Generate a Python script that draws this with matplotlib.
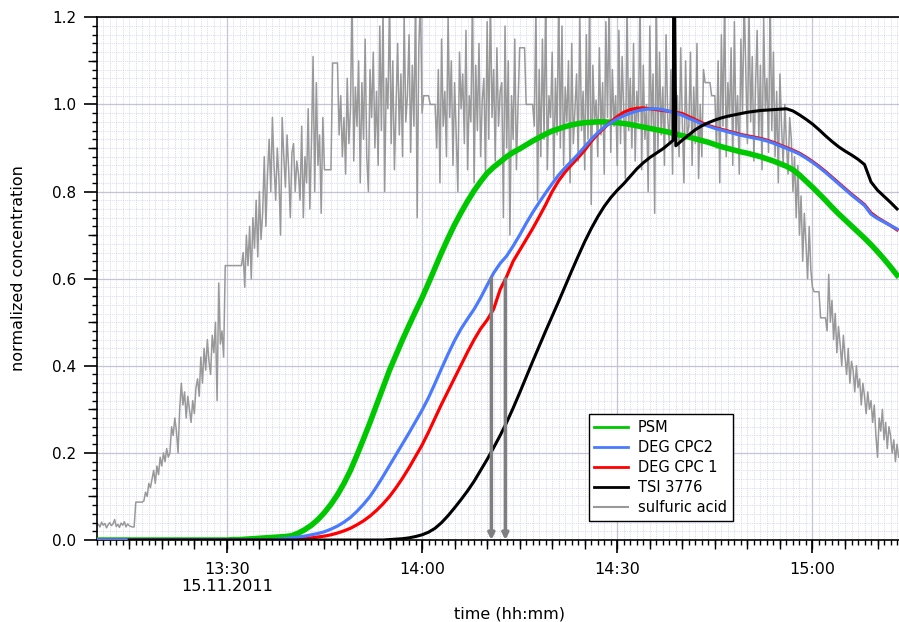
import numpy as np
import matplotlib
matplotlib.use("Agg")
import matplotlib.pyplot as plt
from matplotlib.ticker import MultipleLocator, FuncFormatter
from matplotlib.lines import Line2D

# ---------------- data (time in minutes after 13:00, 15.11.2011) ----------------
curve_start = 10          # 1-minute samples from 13:10
psm = ([0.0] * 20 +
       [0.000, 0.001, 0.001, 0.002, 0.003, 0.004, 0.005, 0.006, 0.007, 0.008,
        0.010, 0.016, 0.024, 0.034, 0.047, 0.063, 0.082, 0.104, 0.130, 0.160,
        0.195, 0.232, 0.270, 0.310, 0.350, 0.390, 0.425, 0.460, 0.493, 0.525,
        0.556, 0.590, 0.625, 0.660, 0.693, 0.724, 0.752, 0.778, 0.802, 0.823,
        0.842, 0.856, 0.868, 0.880, 0.890, 0.898, 0.907, 0.916, 0.924, 0.932,
        0.939, 0.944, 0.949, 0.953, 0.956, 0.958, 0.959, 0.960, 0.960, 0.959,
        0.958, 0.956, 0.954, 0.951, 0.948, 0.945, 0.942, 0.939, 0.936, 0.932,
        0.928, 0.925, 0.921, 0.917, 0.913, 0.908, 0.903, 0.899, 0.895, 0.891,
        0.888, 0.884, 0.880, 0.875, 0.870, 0.864, 0.858, 0.850, 0.838, 0.824,
        0.810, 0.795, 0.780, 0.764, 0.749, 0.735, 0.721, 0.707, 0.693, 0.678,
        0.662, 0.645, 0.627, 0.608])

deg_cpc2 = ([0.0] * 28 +
            [0.002, 0.003,
             0.005, 0.007, 0.009, 0.012, 0.015, 0.019, 0.025, 0.032, 0.041, 0.052,
             0.066, 0.082, 0.100, 0.122, 0.146, 0.171, 0.196, 0.221, 0.246, 0.272,
             0.298, 0.327, 0.360, 0.394, 0.427, 0.458, 0.485, 0.508, 0.530, 0.556,
             0.585, 0.613, 0.635, 0.652, 0.675, 0.700, 0.727, 0.752, 0.775, 0.797,
             0.818, 0.838, 0.855, 0.870, 0.886, 0.903, 0.920, 0.935, 0.948, 0.958,
             0.967, 0.974, 0.980, 0.985, 0.988, 0.990, 0.990, 0.988, 0.984, 0.980,
             0.975, 0.968, 0.962, 0.955, 0.950, 0.945, 0.941, 0.937, 0.933, 0.929,
             0.926, 0.923, 0.920, 0.916, 0.911, 0.905, 0.899, 0.893, 0.886, 0.877,
             0.867, 0.856, 0.844, 0.831, 0.818, 0.805, 0.792, 0.780, 0.768, 0.748,
             0.738, 0.730, 0.722, 0.714])

deg_cpc1 = ([0.0] * 30 +
            [0.002, 0.003, 0.004, 0.005, 0.007, 0.009, 0.012, 0.016, 0.021, 0.027,
             0.035, 0.044, 0.055, 0.068, 0.083, 0.100, 0.120, 0.142, 0.166, 0.192,
             0.218, 0.248, 0.280, 0.312, 0.342, 0.372, 0.402, 0.432, 0.460, 0.485,
             0.505, 0.530, 0.575, 0.605, 0.640, 0.665, 0.690, 0.715, 0.742, 0.770,
             0.800, 0.825, 0.845, 0.862, 0.878, 0.895, 0.915, 0.932, 0.946, 0.960,
             0.972, 0.982, 0.988, 0.991, 0.992, 0.990, 0.988, 0.986, 0.984, 0.982,
             0.979, 0.972, 0.965, 0.958, 0.952, 0.947, 0.943, 0.939, 0.935, 0.931,
             0.928, 0.925, 0.922, 0.918, 0.913, 0.907, 0.901, 0.895, 0.888, 0.879,
             0.869, 0.858, 0.846, 0.833, 0.820, 0.807, 0.794, 0.782, 0.770, 0.751,
             0.740, 0.731, 0.722, 0.712])

tsi_time = np.concatenate([np.arange(15, 99), [98.6, 98.7], np.arange(99, 134)])
tsi_3776 = ([0.0] * 40 +
            [0.001, 0.002, 0.003, 0.005, 0.008,
             0.012, 0.018, 0.027, 0.040, 0.056, 0.074, 0.093, 0.113, 0.135, 0.160,
             0.185, 0.212, 0.240, 0.270, 0.303, 0.338, 0.374, 0.410, 0.445, 0.480,
             0.514, 0.548, 0.583, 0.618, 0.652, 0.685, 0.715, 0.742, 0.766, 0.786,
             0.803, 0.818, 0.835, 0.852, 0.866, 0.878, 0.888, 0.898, 0.910,
             0.918, 1.40,
             0.905, 0.918, 0.930, 0.942, 0.951, 0.958, 0.964, 0.969, 0.973, 0.976, 0.979,
             0.982, 0.984, 0.986, 0.987, 0.988, 0.989, 0.990, 0.985, 0.976, 0.966,
             0.955, 0.942, 0.928, 0.915, 0.903, 0.893, 0.884, 0.874, 0.862, 0.822,
             0.803, 0.789, 0.775, 0.760])

acid_start, acid_step = 10.0, 0.25   # 15-second samples
sulfuric_acid = (
    [0.032, 0.036, 0.030, 0.041, 0.034, 0.038, 0.028, 0.035, 0.040, 0.033,
     0.037, 0.047, 0.031, 0.036, 0.029, 0.039, 0.034, 0.042, 0.030, 0.037,
     0.033, 0.031, 0.030, 0.030] +
    [0.087] * 5 +
    [0.09, 0.11, 0.10, 0.13, 0.12, 0.14, 0.16, 0.13, 0.17, 0.15, 0.19, 0.17,
     0.20, 0.18, 0.21, 0.19, 0.20] +
    [0.26, 0.24, 0.28, 0.25, 0.20] +
    [0.30, 0.36, 0.31, 0.34, 0.28, 0.33, 0.30, 0.27, 0.32, 0.29, 0.35] +
    [0.37, 0.33, 0.42, 0.36, 0.44, 0.39, 0.46, 0.41, 0.38, 0.47, 0.43, 0.50,
     0.32, 0.59, 0.45, 0.48, 0.42] +
    [0.63] * 11 +
    [0.66, 0.58, 0.70, 0.63, 0.72, 0.60, 0.74, 0.67, 0.78, 0.65, 0.80, 0.69,
     0.75, 0.88, 0.72] +
    [0.84, 0.92, 0.80, 0.97, 0.86, 0.78, 0.90, 0.83, 0.70, 0.97, 0.88, 0.81,
     0.93, 0.85, 0.74, 0.89, 0.91, 0.80, 0.87, 0.84] +
    [0.78, 0.95, 0.74, 0.88, 0.82, 0.99, 0.76, 0.91, 1.11, 0.80, 1.05, 0.86,
     0.93, 0.75, 0.97] +
    [0.85] * 5 + [1.095] * 4 +
    [0.93, 1.02, 0.88, 0.97, 0.84, 1.06, 0.91, 0.99, 1.25, 0.87, 1.04] +
    [0.95, 1.10, 0.82, 1.05, 0.92, 1.15, 0.88, 0.80, 1.08, 0.97,
     1.12, 0.90, 1.03, 0.86, 1.18, 0.94, 1.22, 0.80, 1.06, 0.99,
     1.24, 0.91, 1.10, 0.85, 1.00, 1.14, 0.93, 1.07, 0.88, 1.20,
     0.96, 1.02, 1.16, 0.89, 1.09, 0.95, 1.25, 0.74, 1.13, 1.25, 0.98] +
    [1.02] * 4 + [1.00] * 4 +
    [0.90, 1.08, 0.82, 1.15, 0.95, 1.03, 0.88, 1.20, 0.97, 1.10,
     0.86, 1.05, 0.93, 0.80, 1.12, 0.99, 1.07, 0.91, 1.17, 0.85,
     1.02, 0.96, 1.25, 0.82, 1.09, 0.94, 1.14, 0.88, 1.01, 1.06,
     0.84, 1.19, 0.92, 1.25, 0.97, 1.08, 0.87, 1.13, 0.95, 1.03] +
    [1.05, 0.74, 1.18, 0.90, 1.10, 0.70, 1.02, 0.92, 1.15, 0.85, 1.00] +
    [1.13] * 4 + [1.00] * 5 +
    [0.95, 1.22, 0.78, 1.08, 0.88, 1.15, 0.92, 1.25, 0.85, 1.02,
     0.97, 1.12, 0.83, 1.06, 0.93, 1.25, 0.90, 1.18, 0.86, 1.04,
     0.96, 1.10, 0.82, 1.14, 0.91, 0.99, 1.07, 0.87, 1.20, 0.94,
     1.03, 0.85, 1.16, 0.92, 1.25, 0.77, 1.09, 0.96, 1.01, 0.88,
     1.13, 0.93, 1.05, 0.84, 1.19, 0.97, 1.25, 0.89, 1.08, 0.95,
     1.02, 0.86, 1.17, 0.91, 1.11, 0.98, 0.83, 1.24, 0.94, 1.06,
     0.90, 1.14, 0.87, 1.03, 0.96, 1.25, 0.85, 1.09, 0.92, 1.00,
     0.80, 1.18, 0.95, 1.07, 0.75, 1.25, 0.89, 1.12, 0.93, 1.04,
     0.86, 1.16, 0.97, 0.91, 1.08, 0.84, 1.21, 0.94, 1.02, 0.88,
     1.13, 0.96, 0.82, 1.10, 0.93] +
    [0.95, 1.12, 0.86, 1.04, 0.91, 1.14, 0.83, 1.00, 0.88, 1.08] +
    [1.05] * 4 + [1.02] * 3 +
    [0.90, 1.10, 0.82, 1.16, 0.95, 1.25, 0.88, 1.05, 0.97, 1.13,
     0.86, 1.19, 0.93, 1.02, 0.84, 1.15, 0.98, 1.25, 1.08, 0.91,
     1.22, 0.96, 1.11, 0.87, 1.04, 1.17, 0.92, 1.09, 0.85, 1.20,
     0.99, 1.06, 0.89, 1.25, 0.94, 1.12, 0.88, 1.03, 0.82, 1.07,
     0.95, 0.86, 1.00, 0.91, 0.84, 0.97] +
    [0.92, 0.80, 0.88, 0.74, 0.86, 0.70, 0.79, 0.64, 0.75, 0.68, 0.60, 0.72,
     0.62, 0.58] +
    [0.57] * 4 + [0.51] * 4 +
    [0.48, 0.61, 0.50, 0.55, 0.46, 0.52, 0.43, 0.49, 0.45, 0.40,
     0.47, 0.42, 0.38, 0.44, 0.36, 0.41, 0.39, 0.34, 0.40, 0.35,
     0.37, 0.31, 0.36, 0.33, 0.29, 0.34, 0.30, 0.32, 0.27, 0.31,
     0.24, 0.19, 0.28, 0.25, 0.30, 0.23, 0.27, 0.21, 0.26, 0.24,
     0.20, 0.23, 0.18, 0.22, 0.19])

arrow_times = [70.65, 72.8]   # where DEG CPC2 / DEG CPC 1 reach 0.6
arrow_level = 0.6

labels = ["PSM", "DEG CPC2", "DEG CPC 1", "TSI 3776", "sulfuric acid"]
colors = ["#00c800", "#4a7bff", "#ff0000", "#000000", "#999999"]

# ---------------- figure ----------------
plt.rcParams["font.family"] = ["DejaVu Sans"]
fig = plt.figure(figsize=(8.99, 6.22), dpi=100)
ax = fig.add_axes([0.1076, 0.1318, 0.8924, 0.8404])

t_curve = curve_start + np.arange(len(psm))
t_acid = acid_start + acid_step * np.arange(len(sulfuric_acid))

ax.plot(t_acid, sulfuric_acid, color=colors[4], lw=1.1, zorder=2)
ax.plot(t_curve, psm, color=colors[0], lw=4.0, zorder=3, solid_joinstyle="round")
ax.plot(curve_start + np.arange(len(deg_cpc1)), deg_cpc1, color=colors[2], lw=2.3, zorder=4)
ax.plot(curve_start + np.arange(len(deg_cpc2)), deg_cpc2, color=colors[1], lw=2.3, zorder=5)
ax.plot(tsi_time, tsi_3776, color=colors[3], lw=2.2, zorder=6)

for at in arrow_times:
    ax.annotate("", xy=(at, 0.0), xytext=(at, arrow_level),
                arrowprops=dict(arrowstyle="-|>", color="#7f7f7f", lw=2.5,
                                mutation_scale=9, shrinkA=0, shrinkB=0),
                zorder=7)

ax.set_xlim(10, 133.3)
ax.set_ylim(0, 1.2)

# grid
ax.xaxis.set_major_locator(MultipleLocator(30))
ax.xaxis.set_minor_locator(MultipleLocator(1))
ax.yaxis.set_major_locator(MultipleLocator(0.2))
ax.yaxis.set_minor_locator(MultipleLocator(0.02))
ax.grid(which="minor", color="#cfcff5", lw=0.6, ls=(0, (1, 1.2)), zorder=0)
ax.grid(which="major", color="#c4c4d4", lw=0.9, ls="-", zorder=0)
ax.set_axisbelow(True)


def time_fmt(t, pos):
    m = int(round(t))
    s = f"{13 + m // 60}:{m % 60:02d}"
    if m == 30:
        s += "\n15.11.2011"
    return s


ax.xaxis.set_major_formatter(FuncFormatter(time_fmt))
ax.yaxis.set_major_formatter(FuncFormatter(lambda v, p: f"{v:.1f}"))

ax.tick_params(which="major", direction="out", length=9.5, width=1.2, color="black")
ax.tick_params(which="minor", direction="out", length=3.8, width=1.0, color="black")
ax.tick_params(axis="x", which="major", labelsize=11.5, pad=6)
ax.tick_params(axis="y", which="major", labelsize=11, pad=5)

sx = ax.secondary_xaxis("bottom")
sx.set_xticks(np.arange(15, 134, 5))
sx.tick_params(direction="out", length=6.5, width=1.0, labelbottom=False)
sx.spines["bottom"].set_visible(False)
sy = ax.secondary_yaxis("left")
sy.set_yticks(np.arange(0.1, 1.2, 0.2))
sy.tick_params(direction="out", length=6.5, width=1.0, labelleft=False)
sy.spines["left"].set_visible(False)

for side in ["left", "bottom", "top"]:
    ax.spines[side].set_linewidth(1.2)
ax.spines["right"].set_visible(False)

ax.set_xlabel("time (hh:mm)", fontsize=11.5)
ax.xaxis.set_label_coords(0.514, -0.128)
ax.set_ylabel("normalized concentration", fontsize=11.5)
ax.yaxis.set_label_coords(-0.088, 0.52)

handles = [Line2D([], [], color=c, lw=2.0 if i < 4 else 1.5) for i, c in enumerate(colors)]
leg = ax.legend(handles, labels, loc="lower left", bbox_to_anchor=(0.613, 0.036),
                fontsize=10.5, frameon=True, fancybox=False, framealpha=1,
                edgecolor="black", handlelength=2.3, handletextpad=0.7,
                labelspacing=0.35, borderpad=0.4, borderaxespad=0)
leg.get_frame().set_linewidth(1.0)
leg.set_zorder(10)

fig.savefig("out.png", dpi=100)
